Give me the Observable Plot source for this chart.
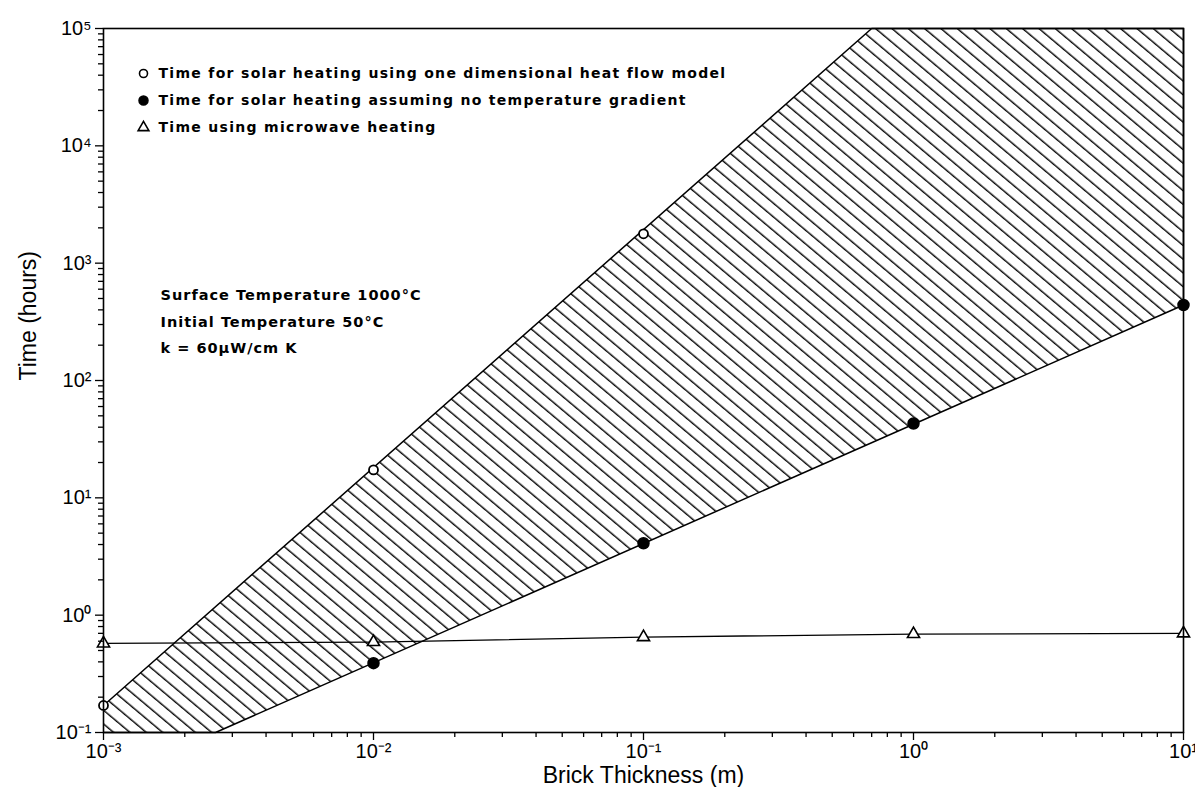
<!DOCTYPE html>
<html>
<head>
<meta charset="utf-8">
<script src="https://cdn.jsdelivr.net/npm/d3@7"></script>
<script src="https://cdn.jsdelivr.net/npm/@observablehq/plot@0.6"></script>
<style>
  html, body { margin: 0; padding: 0; background: #fff; }
  #chart { width: 1195px; height: 787px; }
</style>
</head>
<body>
<div id="chart"></div>
<script>
// ---- data ----
const thickness = [1e-3, 1e-2, 1e-1, 1e0, 1e1];           // Brick thickness (m)
const oneDimX = [1e-3, 1e-2, 1e-1];                        // one-dimensional heat flow model
const oneDimY = [0.17, 17.3, 1780];
const noGradX = [1e-2, 1e-1, 1e0, 1e1];                    // no temperature gradient
const noGradY = [0.39, 4.1, 43, 440];
const microX = thickness;                                   // microwave heating
const microY = [0.574, 0.59, 0.65, 0.69, 0.70];
// shaded region between the two solar heating curves (corner points)
const hatchX = [1e-3, 0.7, 10, 10, 0.0026, 1e-3];
const hatchY = [0.17, 1e5, 1e5, 440, 0.1, 0.1];

const xMajor = [1e-3, 1e-2, 1e-1, 1e0, 1e1];
const yMajor = [1e-1, 1e0, 1e1, 1e2, 1e3, 1e4, 1e5];
const xTitle = "Brick Thickness (m)";
const yTitle = "Time (hours)";
const legendLabels = [
  "Time for solar heating using one dimensional heat flow model",
  "Time for solar heating assuming no temperature gradient",
  "Time using microwave heating"
];
const noteLines = [
  "Surface Temperature 1000°C",
  "Initial Temperature 50°C",
  "k = 60μW/cm K"
];

// ---- helpers ----
const minorOf = (majors) => {
  const out = [];
  for (let i = 0; i < majors.length - 1; i++)
    for (let k = 2; k <= 9; k++) out.push(majors[i] * k);
  return out;
};
const supMap = {"-": "⁻", "0": "⁰", "1": "¹", "2": "²", "3": "³", "4": "⁴", "5": "⁵"};
const pow10 = d => "10" + String(Math.round(Math.log10(d))).replace(/./g, c => supMap[c]);

const micro = microX.map((x, i) => ({x, y: microY[i]}));
const oneDim = oneDimX.map((x, i) => ({x, y: oneDimY[i]}));
const noGrad = noGradX.map((x, i) => ({x, y: noGradY[i]}));
const hatch = hatchX.map((x, i) => ({x, y: hatchY[i]}));

const legendFont = "'DejaVu Sans', sans-serif";
const tickFont = "'Liberation Sans', Arial, sans-serif";

const plot = Plot.plot({
  width: 1195,
  height: 787,
  marginLeft: 103,
  marginRight: 12,
  marginTop: 28,
  marginBottom: 55,
  style: {fontFamily: tickFont, fontSize: "20px", background: "#fff", color: "#000"},
  x: {type: "log", domain: [1e-3, 10]},
  y: {type: "log", domain: [0.1, 1e5]},
  marks: [
    Plot.line(hatch, {x: "x", y: "y", fill: "url(#hatch)", stroke: "#000", strokeWidth: 1.5}),
    Plot.line(micro, {x: "x", y: "y", stroke: "#000", strokeWidth: 1.3}),
    Plot.dot(oneDim, {x: "x", y: "y", r: 4.5, symbol: "circle", fill: "#fff", stroke: "#000", strokeWidth: 1.8}),
    Plot.dot(noGrad, {x: "x", y: "y", r: 5.5, symbol: "circle", fill: "#000", stroke: "#000"}),
    Plot.dot(micro, {x: "x", y: "y", r: 4.5, symbol: "triangle", fill: "#fff", stroke: "#000", strokeWidth: 1.6}),
    Plot.frame({stroke: "#000", strokeWidth: 1.6}),
    // axes
    Plot.axisX({ticks: minorOf(xMajor), tickSize: 5, tickFormat: () => "", strokeWidth: 1.3, label: null}),
    Plot.axisX({ticks: xMajor, tickSize: 8, tickPadding: 3, tickFormat: pow10, fontSize: 20, strokeWidth: 1.3, label: null}),
    Plot.axisY({ticks: minorOf(yMajor), tickSize: 5, tickFormat: () => "", strokeWidth: 1.3, label: null}),
    Plot.axisY({ticks: yMajor, tickSize: 8, tickPadding: 4, tickFormat: pow10, fontSize: 20, strokeWidth: 1.3, label: null}),
    // axis titles
    Plot.text([xTitle], {text: d => d, frameAnchor: "bottom", dy: 43, lineAnchor: "middle",
      fontSize: 23, fontFamily: tickFont, fill: "#000"}),
    Plot.text([yTitle], {text: d => d, frameAnchor: "left", dx: -75, rotate: -90, lineAnchor: "middle",
      fontSize: 23, fontFamily: tickFont, fill: "#000"}),
    // legend symbols
    Plot.dot([0], {frameAnchor: "top-left", dx: 40, dy: 45, r: 4, symbol: "circle", fill: "#fff", stroke: "#000", strokeWidth: 1.6}),
    Plot.dot([0], {frameAnchor: "top-left", dx: 40, dy: 72, r: 4.5, symbol: "circle", fill: "#000", stroke: "#000"}),
    Plot.dot([0], {frameAnchor: "top-left", dx: 40, dy: 99, r: 4, symbol: "triangle", fill: "#fff", stroke: "#000", strokeWidth: 1.6}),
    // legend text
    ...legendLabels.map((t, i) => Plot.text([t], {text: d => d, frameAnchor: "top-left", dx: 55, dy: 45 + 27 * i,
      textAnchor: "start", lineAnchor: "middle", fontSize: 14, fontWeight: "bold", fontFamily: legendFont, fill: "#000"})),
    // conditions note
    ...noteLines.map((t, i) => Plot.text([t], {text: d => d, frameAnchor: "top-left", dx: 57, dy: 267 + 26.5 * i,
      textAnchor: "start", lineAnchor: "middle", fontSize: 14.5, fontWeight: "bold", fontFamily: legendFont, fill: "#000"}))
  ]
});

// hatch pattern definition
const ns = "http://www.w3.org/2000/svg";
const svg = plot.tagName.toLowerCase() === "svg" ? plot : plot.querySelector("svg");
const defs = document.createElementNS(ns, "defs");
const pat = document.createElementNS(ns, "pattern");
pat.setAttribute("id", "hatch");
pat.setAttribute("patternUnits", "userSpaceOnUse");
pat.setAttribute("width", "10.5");
pat.setAttribute("height", "10.5");
pat.setAttribute("patternTransform", "rotate(40)");
const ln = document.createElementNS(ns, "line");
ln.setAttribute("x1", "-1"); ln.setAttribute("y1", "5");
ln.setAttribute("x2", "12"); ln.setAttribute("y2", "5");
ln.setAttribute("stroke", "#000"); ln.setAttribute("stroke-width", "1.4");
pat.appendChild(ln);
defs.appendChild(pat);
svg.insertBefore(defs, svg.firstChild);

// letter spacing for the wide geometric lettering
svg.querySelectorAll("g[font-family*='DejaVu'] text, text[font-family*='DejaVu']").forEach(t => {
  const size = parseFloat(t.getAttribute("font-size") || (t.parentNode && t.parentNode.getAttribute("font-size")) || "14");
  t.setAttribute("letter-spacing", size >= 14.5 ? "1.0" : "1.3");
});

document.getElementById("chart").appendChild(plot);
</script>
</body>
</html>
